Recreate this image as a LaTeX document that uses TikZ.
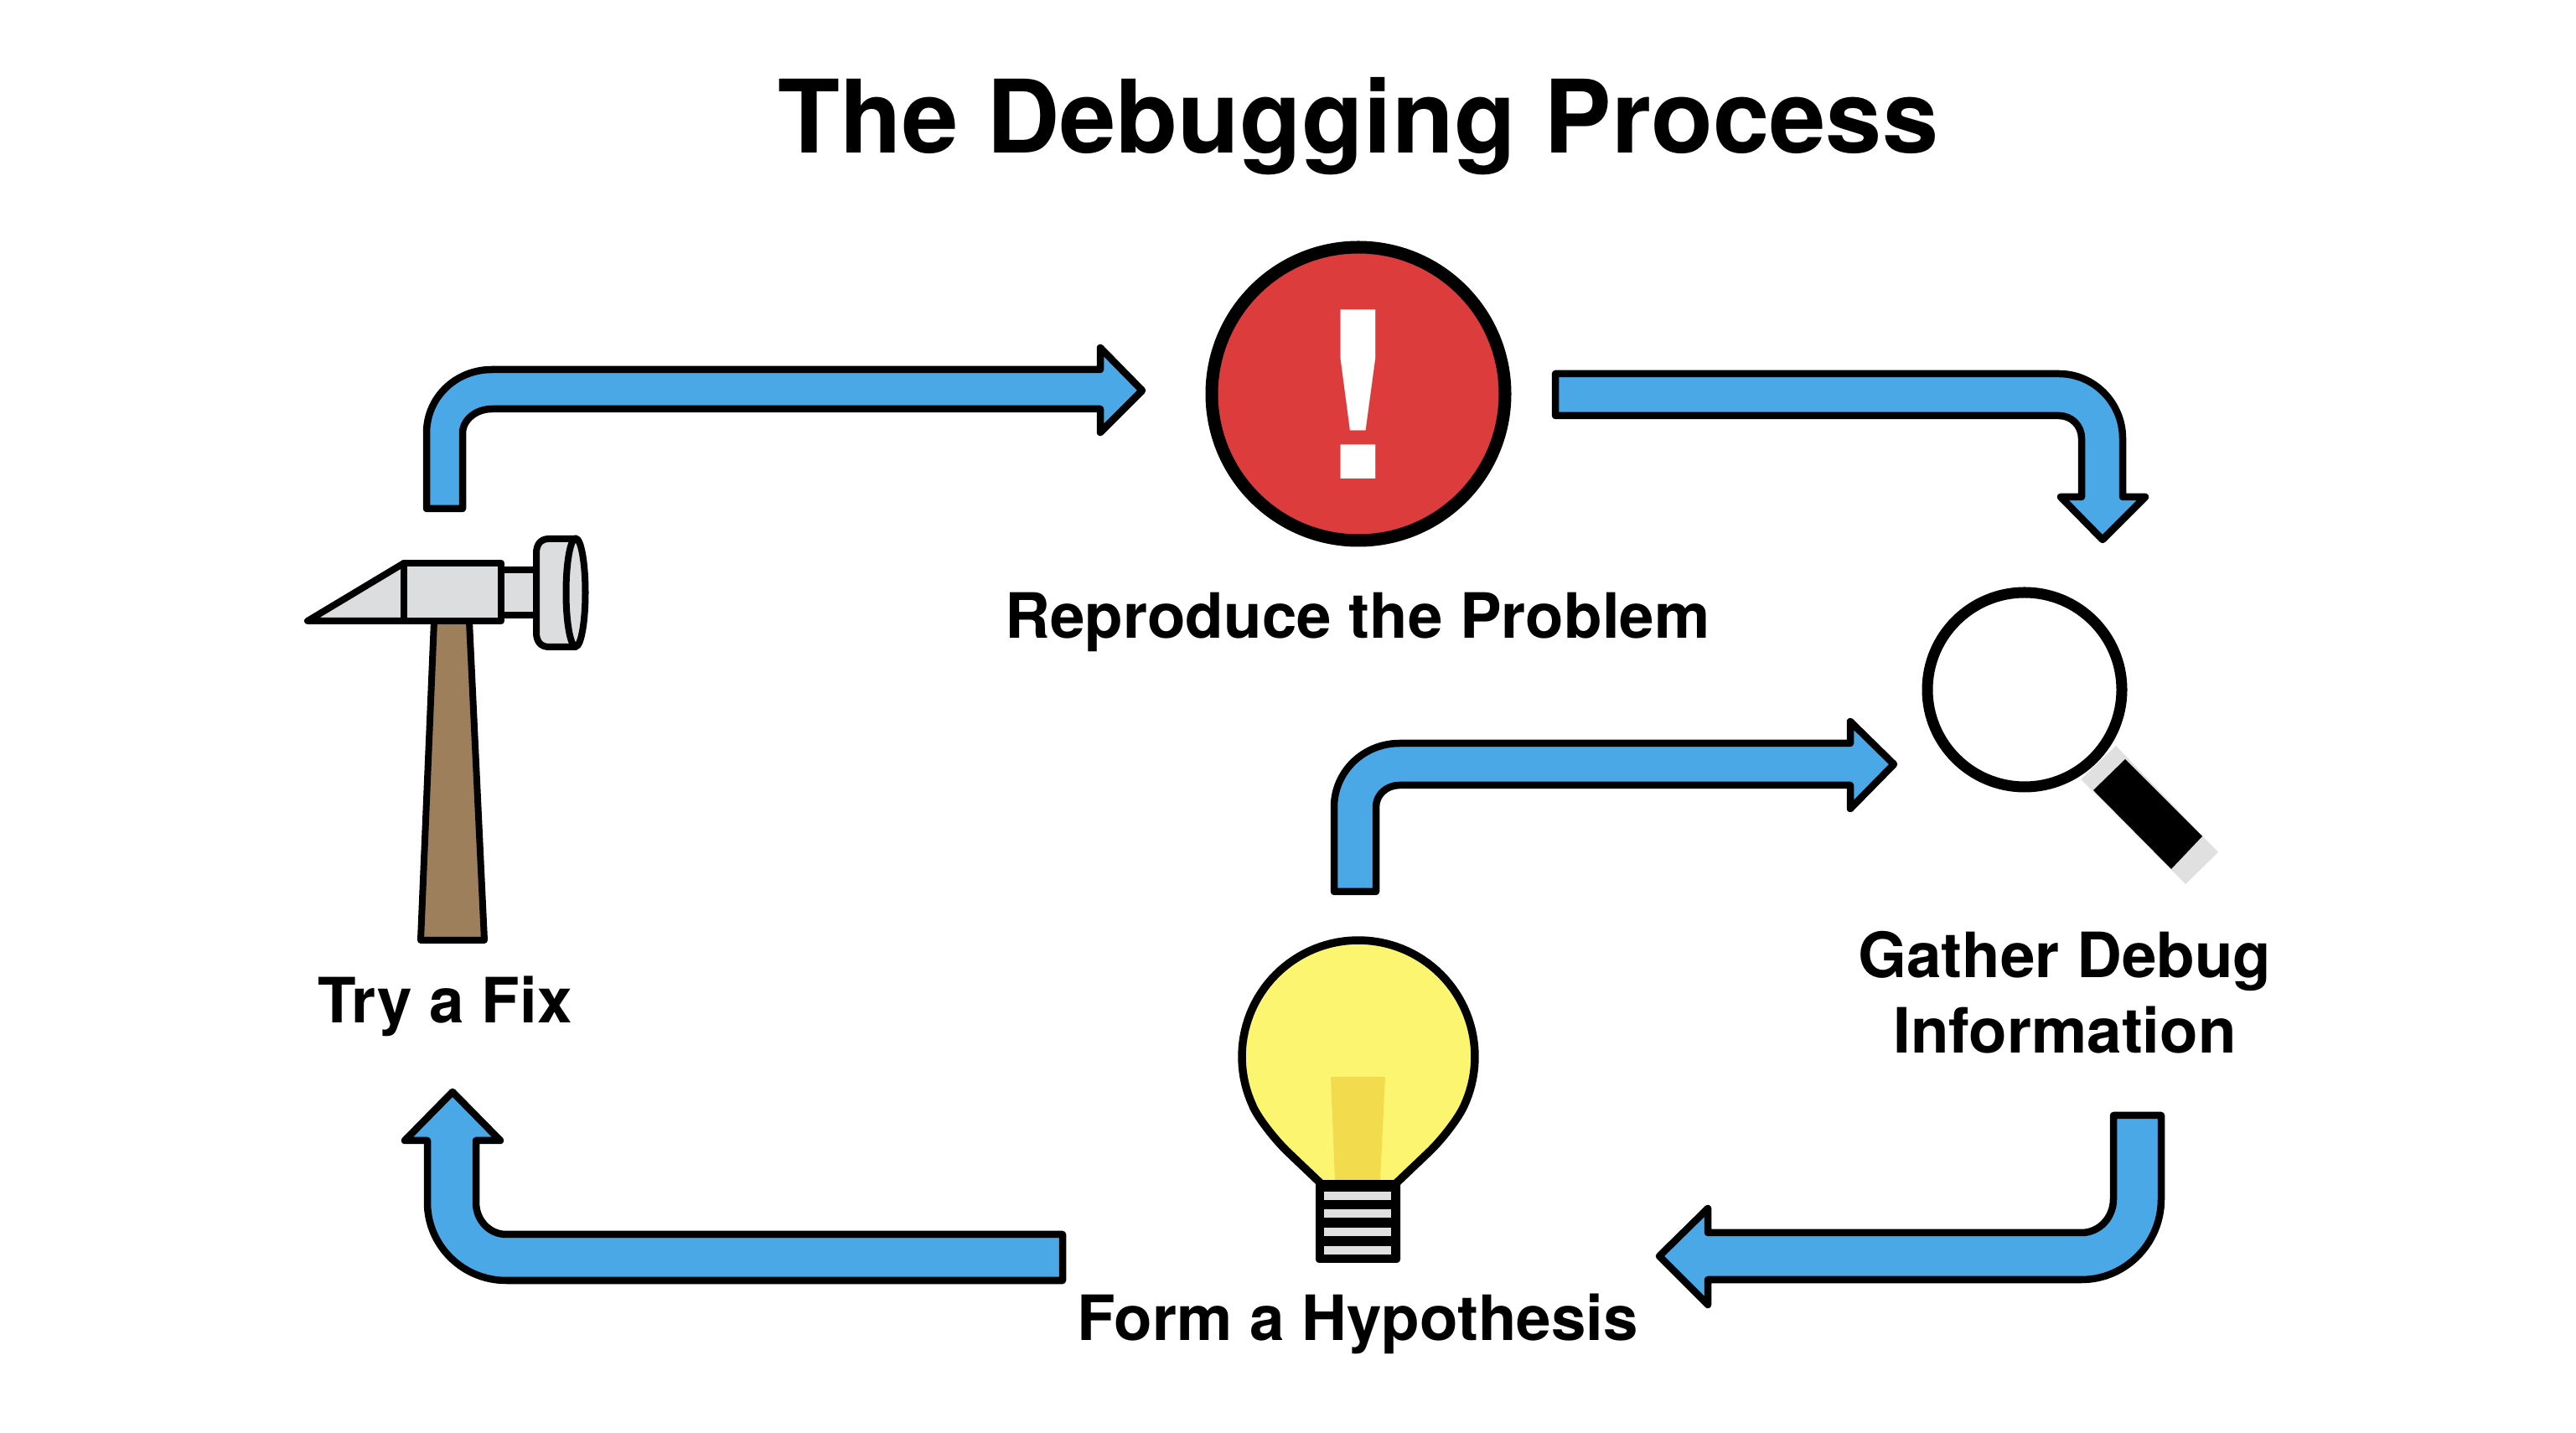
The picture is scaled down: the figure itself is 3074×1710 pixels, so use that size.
\documentclass[tikz,border=0pt]{standalone}
\usepackage{fontspec}
\setmainfont{TeX Gyre Heros}
\definecolor{arrowblue}{HTML}{4BA8E6}
\definecolor{alertred}{HTML}{DC3C3C}
\definecolor{steel}{HTML}{DCDDDF}
\definecolor{wood}{HTML}{9E7F5B}
\definecolor{bulbyellow}{HTML}{FBF56F}
\definecolor{filament}{HTML}{F2DC4E}
\definecolor{lenslip}{HTML}{E0E0E0}
\tikzset{
  blockarrow/.style={draw=black,fill=arrowblue,line width=0.085cm,line join=round},
  toolpart/.style={draw=black,line width=0.08cm,line join=round},
  labeltext/.style={font=\fontsize{21.2}{25.6}\selectfont\bfseries,text=black,inner sep=0pt,align=center},
}
\begin{document}
\begin{tikzpicture}[x=0.01cm,y=-0.01cm]
\useasboundingbox[fill=white] (0,0) rectangle (3074,1710);
% title
\node[anchor=base,inner sep=0pt,font=\fontsize{34.4}{41}\selectfont\bfseries] (title) at (1621,183) {The Debugging Process};
% arrows
\draw[blockarrow] (509,607) -- (509,517) .. controls (509,474) and (544,441) .. (587,441) -- (1313,441) -- (1313,415) -- (1363,466) -- (1313,516) -- (1313,488) -- (587,488) .. controls (568,488) and (552,501) .. (552,517) -- (552,607) -- cycle;
\draw[blockarrow] (1856,446) -- (2457,446) .. controls (2499,446) and (2533,481) .. (2533,523) -- (2533,593) -- (2560,593) -- (2509,644) -- (2459,593) -- (2484,593) -- (2484,523) .. controls (2484,508) and (2472,496) .. (2457,496) -- (1856,496) -- cycle;
\draw[blockarrow] (1592,1064) -- (1592,963) .. controls (1592,921) and (1627,887) .. (1670,887) -- (2208,887) -- (2208,861) -- (2260,912) -- (2208,965) -- (2208,937) -- (1670,937) .. controls (1655,937) and (1642,948) .. (1642,963) -- (1642,1064) -- cycle;
\draw[blockarrow] (2579,1331) -- (2579,1431) .. controls (2579,1484) and (2536,1527) .. (2484,1527) -- (2038,1527) -- (2038,1557) -- (1980,1499) -- (2038,1442) -- (2038,1471) -- (2484,1471) .. controls (2505,1471) and (2522,1453) .. (2522,1431) -- (2522,1331) -- cycle;
\draw[blockarrow] (1268,1473) -- (1268,1528) -- (604,1528) .. controls (552,1528) and (510,1486) .. (510,1435) -- (510,1361) -- (483,1361) -- (540,1303) -- (597,1361) -- (568,1361) -- (568,1435) .. controls (568,1456) and (584,1473) .. (604,1473) -- cycle;
% alert
\draw[draw=black,fill=alertred,line width=0.15cm] (1621,470) circle[radius=175];
\node[anchor=base,inner sep=0pt,text=white,font=\fontsize{79}{90}\selectfont\bfseries] (bang) at (1621,572) {!};
\node[labeltext,anchor=base] (reproduce) at (1620,762) {Reproduce the Problem};
% magnifier
\fill[lenslip] (2525,890) -- (2647,1017) -- (2608,1055) -- (2483,930) -- cycle;
\fill[black] (2536,906) -- (2628,998) -- (2591,1037) -- (2498,943) -- cycle;
\draw[draw=black,fill=white,line width=0.13cm] (2416,823) circle[radius=116];
\node[labeltext,anchor=center] (gather) at (2464,1184) {Gather Debug\\Information};
% bulb
\fill[black,rounded corners=0.04cm] (1570,1408) rectangle (1671,1507);
\foreach \ya/\yb in {1422/1432,1443/1453,1465/1475,1487/1497}
  \fill[lenslip] (1580,\ya) rectangle (1660,\yb);
\draw[draw=black,fill=bulbyellow,line width=0.095cm,line join=round] (1577,1413) -- (1535,1373) .. controls (1520,1358) and (1502,1335) .. (1495,1320) -- plot[domain=155:385,samples=80] ({1621+139*cos(\x)},{1261+139*sin(\x)}) .. controls (1740,1335) and (1722,1358) .. (1707,1373) -- (1665,1413) -- cycle;
\fill[filament] (1588,1285) -- (1653,1285) -- (1647,1408) -- (1593,1408) -- cycle;
\node[labeltext,anchor=base] (form) at (1620,1600) {Form a Hypothesis};
% hammer
\draw[toolpart,fill=wood] (518,741) -- (560,741) -- (578,1122) -- (502,1122) -- cycle;
\draw[toolpart,fill=steel] (367,741) -- (482,672) -- (482,741) -- cycle;
\draw[toolpart,fill=steel] (598,680) rectangle (640,734);
\draw[toolpart,fill=steel] (482,672) rectangle (598,741);
\draw[toolpart,fill=steel] (687,643) -- (655,643) .. controls (645,643) and (640,650) .. (640,660) -- (640,755) .. controls (640,765) and (645,772) .. (655,772) -- (687,772) -- cycle;
\draw[toolpart,fill=steel] (687,707) ellipse[x radius=11.5,y radius=64.5];
\node[labeltext,anchor=base] (fix) at (531,1221) {Try a Fix};
\end{tikzpicture}
\end{document}
